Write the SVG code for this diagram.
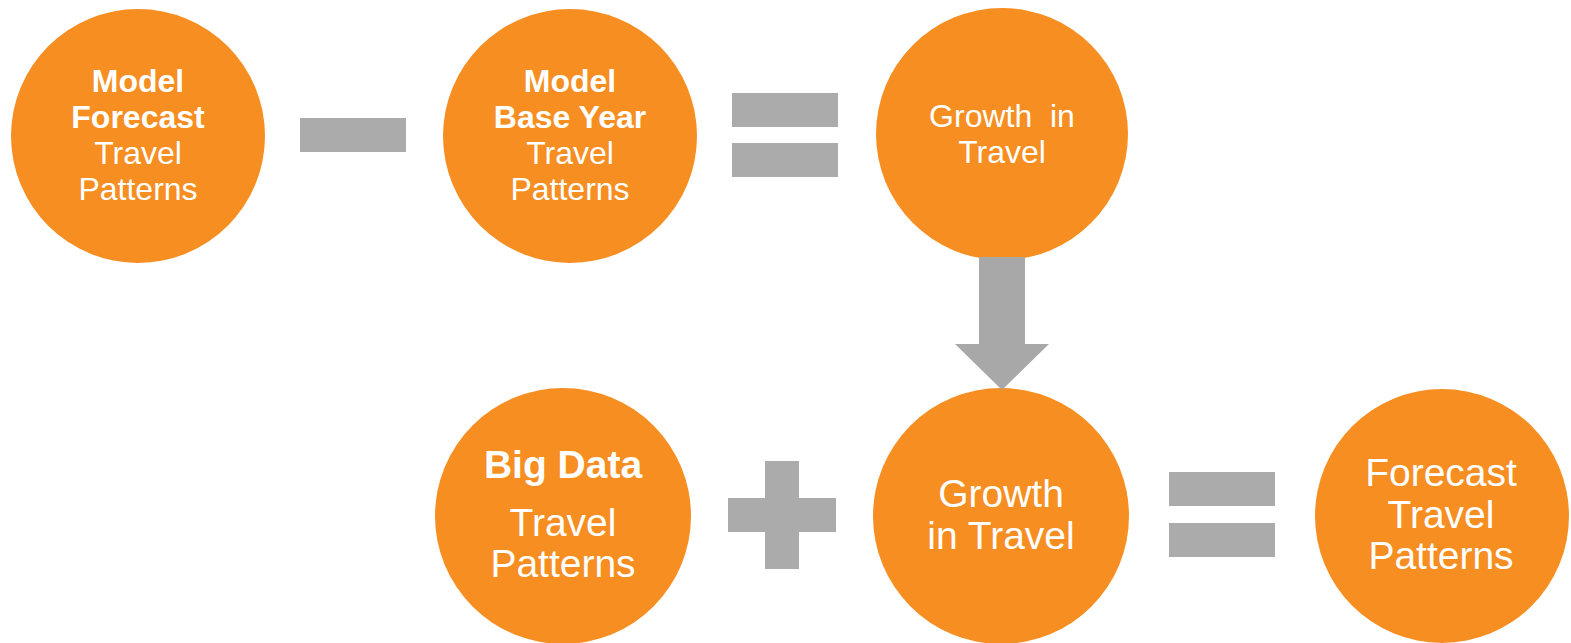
<svg xmlns="http://www.w3.org/2000/svg" width="1571" height="643" viewBox="0 0 1571 643">
  <style>
    .node { fill: #F68E22; }
    .op { fill: #ABABAB; }
    .arrow { fill: #A8A8A8; }
    text { font-family: "Liberation Sans", Arial, sans-serif; fill: #FFFFFF; text-anchor: middle; }
    .b { font-weight: bold; }
    .s { font-size: 32px; }
    .l { font-size: 39px; }
  </style>
  <rect width="1571" height="643" fill="#FFFFFF"/>

  <!-- top row: forecast minus base year equals growth -->
  <g id="model-forecast">
    <circle class="node" cx="138" cy="136" r="127"/>
    <text class="s b" x="138" y="92">Model</text>
    <text class="s b" x="138" y="128">Forecast</text>
    <text class="s" x="138" y="164">Travel</text>
    <text class="s" x="138" y="200">Patterns</text>
  </g>
  <g id="model-base-year">
    <circle class="node" cx="570" cy="136" r="127"/>
    <text class="s b" x="570" y="92">Model</text>
    <text class="s b" x="570" y="128">Base Year</text>
    <text class="s" x="570" y="164">Travel</text>
    <text class="s" x="570" y="200">Patterns</text>
  </g>
  <g id="growth-top">
    <circle class="node" cx="1002" cy="134" r="126"/>
    <text class="s" x="1002" y="127" style="white-space:pre">Growth  in</text>
    <text class="s" x="1002" y="163">Travel</text>
  </g>

  <!-- bottom row: big data plus growth equals forecast -->
  <g id="big-data">
    <circle class="node" cx="563" cy="516" r="128"/>
    <text class="l b" x="563" y="478">Big Data</text>
    <text class="l" x="563" y="536">Travel</text>
    <text class="l" x="563" y="577">Patterns</text>
  </g>
  <g id="growth-bottom">
    <circle class="node" cx="1001" cy="516" r="128"/>
    <text class="l" x="1001" y="507">Growth</text>
    <text class="l" x="1001" y="549">in Travel</text>
  </g>
  <g id="forecast-patterns">
    <circle class="node" cx="1442" cy="516" r="127"/>
    <text class="l" x="1441" y="486">Forecast</text>
    <text class="l" x="1441" y="528">Travel</text>
    <text class="l" x="1441" y="569">Patterns</text>
  </g>

  <!-- arithmetic signs -->
  <g id="minus">
    <rect class="op" x="300" y="118" width="106" height="34"/>
  </g>
  <g id="equals-top">
    <rect class="op" x="732" y="93" width="106" height="34"/>
    <rect class="op" x="732" y="143" width="106" height="34"/>
  </g>
  <g id="plus">
    <rect class="op" x="728" y="498" width="108" height="34"/>
    <rect class="op" x="765" y="461" width="34" height="108"/>
  </g>
  <g id="equals-bottom">
    <rect class="op" x="1169" y="472" width="106" height="34"/>
    <rect class="op" x="1169" y="523" width="106" height="34"/>
  </g>

  <!-- connectors -->
  <g id="connectors">
    <polygon class="arrow" points="979,257 1025,257 1025,344 1049,344 1002,390 955,344 979,344"/>
  </g>
</svg>
